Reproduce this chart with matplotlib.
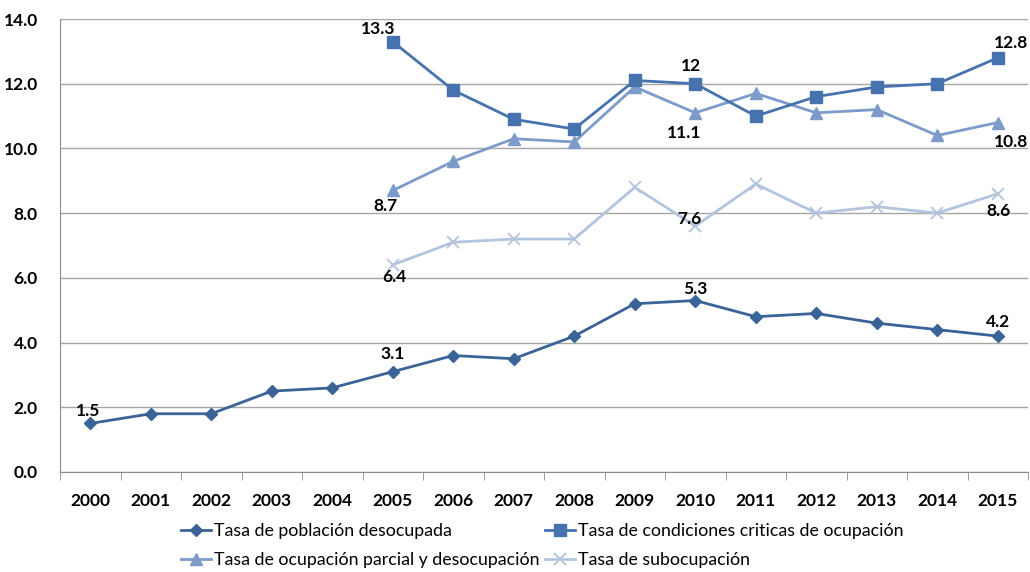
import matplotlib.pyplot as plt
import numpy as np

# Years and rates (%)
years = ['2000', '2001', '2002', '2003', '2004', '2005', '2006', '2007',
         '2008', '2009', '2010', '2011', '2012', '2013', '2014', '2015']
desocupada = [1.5, 1.8, 1.8, 2.5, 2.6, 3.1, 3.6, 3.5, 4.2, 5.2, 5.3, 4.8, 4.9, 4.6, 4.4, 4.2]
years_b = years[5:]
criticas = [13.3, 11.8, 10.9, 10.6, 12.1, 12.0, 11.0, 11.6, 11.9, 12.0, 12.8]
parcial = [8.7, 9.6, 10.3, 10.2, 11.9, 11.1, 11.7, 11.1, 11.2, 10.4, 10.8]
subocupacion = [6.4, 7.1, 7.2, 7.2, 8.8, 7.6, 8.9, 8.0, 8.2, 8.0, 8.6]

names = ['Tasa de población desocupada',
         'Tasa de condiciones criticas de ocupación',
         'Tasa de ocupación parcial y desocupación',
         'Tasa de subocupación']

plt.rcParams['font.family'] = ['Lato', 'DejaVu Sans']

fig = plt.figure(figsize=(10.30, 5.72), dpi=100)
ax = fig.add_axes([60/1030, 100/572, 968/1030, 453/572])

x_all = np.arange(len(years))
x_b = np.arange(5, len(years))

l1, = ax.plot(x_all, desocupada, color='#3A6397', lw=2.0, marker='D', ms=6.5, zorder=5)
l2, = ax.plot(x_b, criticas, color='#4673AE', lw=2.0, marker='s', ms=8, zorder=4)
l3, = ax.plot(x_b, parcial, color='#7D9BCA', lw=2.0, marker='^', ms=8.5, zorder=3)
l4, = ax.plot(x_b, subocupacion, color='#B3C4DF', lw=2.0, marker='x', ms=8, mew=1.3, zorder=2)

# value labels: (series x, series y, index, dx px, dy px)
def label(xs, ys, i, dx, dy):
    ax.annotate(f'{ys[i]:g}', (xs[i], ys[i]), xytext=(dx * 0.72, dy * 0.72),
                textcoords='offset points', ha='center', va='center',
                fontsize=12.5, fontweight='bold', color='black', zorder=10)

label(x_all, desocupada, 0, -2, 12)
label(x_all, desocupada, 5, 0, 18)
label(x_all, desocupada, 10, 0, 12)
label(x_all, desocupada, 15, 0, 14)
label(x_b, criticas, 0, -15, 13)
label(x_b, criticas, 5, -4, 18)
label(x_b, criticas, 10, 13, 15)
label(x_b, parcial, 0, -7, -16)
label(x_b, parcial, 5, -11, -20)
label(x_b, parcial, 10, 13, -19)
label(x_b, subocupacion, 0, 2, -12)
label(x_b, subocupacion, 5, -6, 7)
label(x_b, subocupacion, 10, 1, -17)

ax.set_xlim(-0.5, 15.5)
ax.set_ylim(0, 14)
ax.set_yticks(np.arange(0, 14.1, 2))
ax.set_yticklabels([f'{v:.1f}' for v in np.arange(0, 14.1, 2)])
ax.set_xticks(x_all)
ax.set_xticklabels(years)
ax.set_xticks(np.arange(-0.5, 16, 1), minor=True)
ax.tick_params(axis='x', which='major', length=0, pad=15)
ax.tick_params(axis='x', which='minor', length=6, color='#8C8C8C', direction='out')
ax.tick_params(axis='y', length=0, pad=16)
for t in ax.get_xticklabels() + ax.get_yticklabels():
    t.set_fontweight('bold')
    t.set_fontsize(12.5)

ax.grid(axis='y', color='#A6A6A6', lw=1.0)
ax.set_axisbelow(True)
for s in ['top', 'right']:
    ax.spines[s].set_visible(False)
ax.spines['left'].set_color('#8C8C8C')
ax.spines['bottom'].set_color('#8C8C8C')

# legend fills column by column, so order gives two rows of two
fig.legend([l1, l3, l2, l4], [names[0], names[2], names[1], names[3]], ncol=2,
           frameon=False, loc='upper left', bbox_to_anchor=(181/1030, 1 - 523/572),
           fontsize=12.8, handlelength=1.7, handletextpad=0.15,
           columnspacing=0.3, labelspacing=0.72, borderpad=0, borderaxespad=0)

fig.savefig('out.png', dpi=100)
